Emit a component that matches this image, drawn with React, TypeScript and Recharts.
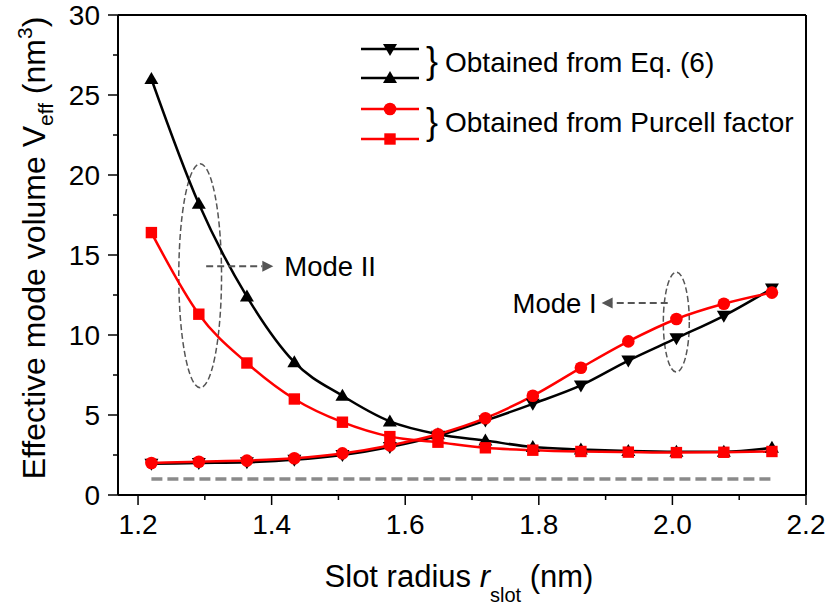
import React from 'react';
import { LineChart, Line, XAxis, YAxis, ReferenceLine, ReferenceArea, Legend, Label } from 'recharts';

// ---------- data ----------
const slotRadius = [1.22, 1.291, 1.363, 1.434, 1.506, 1.577, 1.649, 1.72, 1.791, 1.863, 1.934, 2.006, 2.077, 2.149];
const eqModeI = [1.95, 2.0, 2.05, 2.2, 2.5, 3.0, 3.7, 4.65, 5.7, 6.85, 8.4, 9.8, 11.2, 12.9];
const eqModeII = [26.0, 18.2, 12.4, 8.3, 6.2, 4.6, 3.8, 3.4, 3.0, 2.85, 2.75, 2.7, 2.7, 2.95];
const purcellModeI = [2.0, 2.08, 2.15, 2.3, 2.6, 3.1, 3.8, 4.8, 6.2, 7.95, 9.6, 11.0, 11.95, 12.65];
const purcellModeII = [16.4, 11.3, 8.25, 6.0, 4.55, 3.65, 3.3, 2.95, 2.8, 2.72, 2.68, 2.65, 2.67, 2.72];
const baselineLevel = 1;

const xTicks = [1.2, 1.3, 1.4, 1.5, 1.6, 1.7, 1.8, 1.9, 2.0, 2.1, 2.2];
const yTicks = [0, 2.5, 5, 7.5, 10, 12.5, 15, 17.5, 20, 22.5, 25, 27.5, 30];
const xDomain = [1.17, 2.2];
const yDomain = [0, 30];

const legendLabels = ['Obtained from Eq. (6)', 'Obtained from Purcell factor'];
const modeLabels = ['Mode II', 'Mode I'];
const BRACE = '}';

const rows = slotRadius.map((x, i) => ({
  x,
  eqI: eqModeI[i],
  eqII: eqModeII[i],
  pI: purcellModeI[i],
  pII: purcellModeII[i],
}));

const FONT = '"Liberation Sans", Arial, Helvetica, sans-serif';
const RED = '#ff0000';
const GRAY = '#555555';

// ---------- marker shapes ----------
const DownTri = ({ cx, cy, fill }: any) => (
  <polygon points={`${cx - 7},${cy - 5} ${cx + 7},${cy - 5} ${cx},${cy + 7}`} fill={fill} />
);
const UpTri = ({ cx, cy, fill }: any) => (
  <polygon points={`${cx - 7},${cy + 5} ${cx + 7},${cy + 5} ${cx},${cy - 7}`} fill={fill} />
);
const Circ = ({ cx, cy, fill }: any) => <circle cx={cx} cy={cy} r={6.3} fill={fill} />;
const Sq = ({ cx, cy, fill }: any) => <rect x={cx - 5.7} y={cy - 5.7} width={11.4} height={11.4} fill={fill} />;

// ---------- ticks ----------
const TICK_SIZE = 10;
const TICK_MARGIN = 8;

const XTick = (props: any) => {
  const { x, y, payload } = props;
  const v = payload.value as number;
  const major = Math.round(v * 10) % 2 === 0;
  const axisY = y - TICK_SIZE - TICK_MARGIN;
  return (
    <g>
      <line x1={x} x2={x} y1={axisY} y2={axisY + (major ? 10 : 5)} stroke="#000" strokeWidth={1.5} />
      {major && (
        <text x={x} y={y + 21} textAnchor="middle" fontFamily={FONT} fontSize={28} fill="#000">
          {v.toFixed(1)}
        </text>
      )}
    </g>
  );
};

const YTick = (props: any) => {
  const { x, y, payload } = props;
  const v = payload.value as number;
  const major = v % 5 === 0;
  const axisX = x + TICK_SIZE + TICK_MARGIN;
  return (
    <g>
      <line x1={axisX - (major ? 10 : 5)} x2={axisX} y1={y} y2={y} stroke="#000" strokeWidth={1.5} />
      {major && (
        <text x={x} y={y + 10} textAnchor="end" fontFamily={FONT} fontSize={28} fill="#000">
          {String(v)}
        </text>
      )}
    </g>
  );
};

// ---------- axis titles ----------
const XTitle = (props: any) => {
  const vb = props.viewBox || { x: 118, y: 495, width: 688, height: 110 };
  const cx = vb.x + vb.width / 2 - 3;
  const y = vb.y + 92;
  return (
    <text x={cx} y={y} textAnchor="middle" fontFamily={FONT} fontSize={31} fill="#000">
      <tspan>Slot radius </tspan>
      <tspan fontStyle="italic">r</tspan>
      <tspan fontSize={20} dy={15}>slot</tspan>
      <tspan dy={-15}> (nm)</tspan>
    </text>
  );
};

const YTitle = (props: any) => {
  const vb = props.viewBox || { x: 0, y: 15, width: 118, height: 480 };
  const x = vb.x + 45;
  const cy = vb.y + vb.height / 2 - 7;
  return (
    <text
      x={x}
      y={cy}
      textAnchor="middle"
      transform={`rotate(-90, ${x}, ${cy})`}
      fontFamily={FONT}
      fontSize={32}
      fill="#000"
    >
      <tspan>Effective mode volume V</tspan>
      <tspan fontSize={21} dy={8}>eff</tspan>
      <tspan dy={-8}> (nm</tspan>
      <tspan fontSize={21} dy={-13}>3</tspan>
      <tspan dy={13}>)</tspan>
    </text>
  );
};

// ---------- annotations ----------
const DashedEllipse = (p: any) => (
  <ellipse
    cx={p.x + p.width / 2}
    cy={p.y + p.height / 2}
    rx={p.width / 2}
    ry={p.height / 2}
    fill="none"
    stroke={GRAY}
    strokeWidth={1.5}
    strokeDasharray="6 3"
  />
);

const makeArrow = (label: string, gap: number) => (p: any) => {
  const { x1, y1, x2, y2 } = p;
  const dx = x2 - x1;
  const dy = y2 - y1;
  const len = Math.hypot(dx, dy) || 1;
  const ux = dx / len;
  const uy = dy / len;
  const head = 11;
  const hw = 5.5;
  const bx = x2 - ux * head;
  const by = y2 - uy * head;
  return (
    <g>
      <line x1={x1} y1={y1} x2={bx} y2={by} stroke={GRAY} strokeWidth={2} strokeDasharray="7 4" />
      <polygon points={`${x2},${y2} ${bx - uy * hw},${by + ux * hw} ${bx + uy * hw},${by - ux * hw}`} fill={GRAY} />
      <text
        x={x2 + ux * gap}
        y={y2 + 10}
        textAnchor={ux > 0 ? 'start' : 'end'}
        fontFamily={FONT}
        fontSize={27.5}
        fill="#000"
      >
        {label}
      </text>
    </g>
  );
};

// ---------- legend ----------
const LegendBox = () => {
  const lx1 = 361;
  const lx2 = 419;
  const mx = 390;
  const rowsY = [49, 78, 109, 139];
  return (
    <svg width={829} height={170} style={{ overflow: 'visible' }}>
      <line x1={lx1} x2={lx2} y1={rowsY[0]} y2={rowsY[0]} stroke="#000" strokeWidth={2.5} />
      <DownTri cx={mx} cy={rowsY[0]} fill="#000" />
      <line x1={lx1} x2={lx2} y1={rowsY[1]} y2={rowsY[1]} stroke="#000" strokeWidth={2.5} />
      <UpTri cx={mx} cy={rowsY[1]} fill="#000" />
      <line x1={lx1} x2={lx2} y1={rowsY[2]} y2={rowsY[2]} stroke={RED} strokeWidth={2.5} />
      <Circ cx={mx} cy={rowsY[2]} fill={RED} />
      <line x1={lx1} x2={lx2} y1={rowsY[3]} y2={rowsY[3]} stroke={RED} strokeWidth={2.5} />
      <Sq cx={mx} cy={rowsY[3]} fill={RED} />
      <text x={426} y={73} fontFamily={FONT} fontSize={36} fill="#000">{BRACE}</text>
      <text x={426} y={134} fontFamily={FONT} fontSize={36} fill="#000">{BRACE}</text>
      <text x={445} y={72} fontFamily={FONT} fontSize={28} fill="#000">{legendLabels[0]}</text>
      <text x={445} y={132} fontFamily={FONT} fontSize={28} fill="#000">{legendLabels[1]}</text>
    </svg>
  );
};

export default function App() {
  return (
    <div style={{ position: 'absolute', left: 0, top: 0, width: 829, height: 605, background: '#fff' }}>
      <LineChart width={829} height={605} data={rows} margin={{ top: 15, right: 23, bottom: 0, left: 0 }}>
        <XAxis
          dataKey="x"
          type="number"
          domain={xDomain}
          ticks={xTicks}
          interval={0}
          height={110}
          tickSize={TICK_SIZE}
          tickMargin={TICK_MARGIN}
          tickLine={false}
          tick={<XTick />}
          axisLine={{ stroke: '#000', strokeWidth: 2 }}
        >
          <Label content={<XTitle />} />
        </XAxis>
        <YAxis
          type="number"
          domain={yDomain}
          ticks={yTicks}
          interval={0}
          width={118}
          tickSize={TICK_SIZE}
          tickMargin={TICK_MARGIN}
          tickLine={false}
          tick={<YTick />}
          axisLine={{ stroke: '#000', strokeWidth: 2 }}
        >
          <Label content={<YTitle />} />
        </YAxis>
        <ReferenceLine y={yDomain[1]} stroke="#000" strokeWidth={2} />
        <ReferenceLine x={xDomain[1]} stroke="#000" strokeWidth={2} />
        <ReferenceLine
          segment={[
            { x: slotRadius[0], y: baselineLevel },
            { x: slotRadius[slotRadius.length - 1], y: baselineLevel },
          ]}
          stroke="#8a8a8a"
          strokeWidth={3.5}
          strokeDasharray="11 5"
        />
        <Line
          dataKey="eqII"
          type="monotone"
          stroke="#000"
          strokeWidth={2.5}
          isAnimationActive={false}
          activeDot={false}
          dot={(p: any) => <UpTri key={`u${p.index}`} cx={p.cx} cy={p.cy} fill="#000" />}
        />
        <Line
          dataKey="eqI"
          type="monotone"
          stroke="#000"
          strokeWidth={2.5}
          isAnimationActive={false}
          activeDot={false}
          dot={(p: any) => <DownTri key={`d${p.index}`} cx={p.cx} cy={p.cy} fill="#000" />}
        />
        <Line
          dataKey="pII"
          type="monotone"
          stroke={RED}
          strokeWidth={2.5}
          isAnimationActive={false}
          activeDot={false}
          dot={(p: any) => <Sq key={`s${p.index}`} cx={p.cx} cy={p.cy} fill={RED} />}
        />
        <Line
          dataKey="pI"
          type="monotone"
          stroke={RED}
          strokeWidth={2.5}
          isAnimationActive={false}
          activeDot={false}
          dot={(p: any) => <Circ key={`c${p.index}`} cx={p.cx} cy={p.cy} fill={RED} />}
        />
        <ReferenceArea x1={1.261} x2={1.325} y1={6.7} y2={20.7} shape={DashedEllipse} ifOverflow="visible" />
        <ReferenceArea x1={1.9864} x2={2.0253} y1={7.68} y2={13.93} shape={DashedEllipse} ifOverflow="visible" />
        <ReferenceLine
          segment={[{ x: 1.302, y: 14.3 }, { x: 1.4025, y: 14.3 }]}
          shape={makeArrow(modeLabels[0], 11)}
          ifOverflow="visible"
        />
        <ReferenceLine
          segment={[{ x: 1.993, y: 12.0 }, { x: 1.894, y: 12.0 }]}
          shape={makeArrow(modeLabels[1], 5)}
          ifOverflow="visible"
        />
        <Legend
          layout="vertical"
          align="center"
          verticalAlign="middle"
          content={<LegendBox />}
          wrapperStyle={{ position: 'absolute', left: 0, top: 0, width: 829, height: 170, pointerEvents: 'none' }}
        />
      </LineChart>
    </div>
  );
}
